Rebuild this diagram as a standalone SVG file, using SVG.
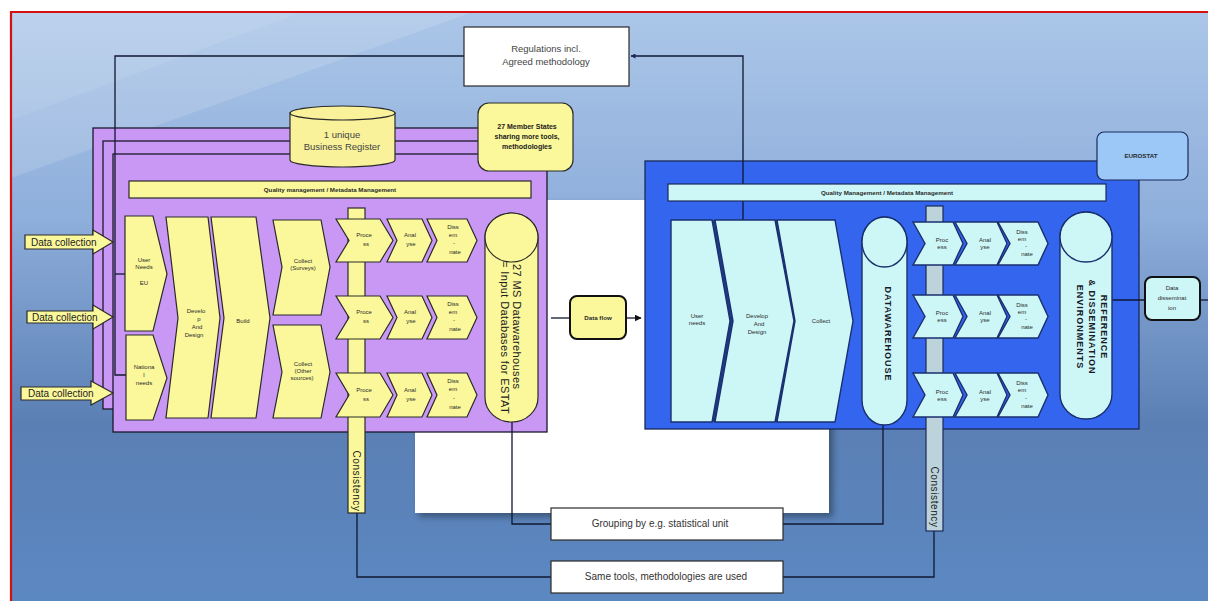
<svg xmlns="http://www.w3.org/2000/svg" width="1208" height="601" viewBox="0 0 1208 601">
<defs>
<linearGradient id="bg" x1="0" y1="0" x2="0" y2="1">
<stop offset="0" stop-color="#abc6e8"/>
<stop offset="0.35" stop-color="#8eaedb"/>
<stop offset="0.7" stop-color="#5a7fb4"/>
<stop offset="1" stop-color="#5c88c2"/>
</linearGradient>
<filter id="sh" x="-10%" y="-10%" width="120%" height="120%"><feGaussianBlur stdDeviation="3"/></filter>
<marker id="arr" viewBox="0 0 10 10" refX="9" refY="5" markerWidth="7" markerHeight="7" orient="auto" markerUnits="userSpaceOnUse"><path d="M0,0 L10,5 L0,10 Z" fill="#111"/></marker>
<marker id="arrs" viewBox="0 0 10 10" refX="9" refY="5" markerWidth="5" markerHeight="5" orient="auto" markerUnits="userSpaceOnUse"><path d="M0,0 L10,5 L0,10 Z" fill="#1a2a5a"/></marker>
</defs>
<style>
text{font-family:"Liberation Sans",Arial,sans-serif;}
.y{fill:#fbf89b;stroke:#2a2a2a;stroke-width:1.2;}
.pu{fill:#c998f5;stroke:#1a1a2a;stroke-width:1.3;}
.bl{fill:#3365ee;stroke:#1a2a5a;stroke-width:1.3;}
.c{fill:#cdf7f7;stroke:#1a2f6e;stroke-width:1.4;}
.cs{fill:#1f3a86;}
.wb{fill:#ffffff;stroke:#2a2a2a;stroke-width:1.2;}
.t6{font-size:6px;fill:#2a2a2a;text-anchor:middle;}
.t6b{font-size:6.2px;font-weight:bold;fill:#2a2a2a;text-anchor:middle;}
.t7b{font-size:7px;font-weight:bold;fill:#1a1a1a;text-anchor:middle;}
.t9{font-size:9.5px;fill:#444;text-anchor:middle;}
.t10{font-size:10px;fill:#333;text-anchor:middle;}
.dc{font-size:10px;fill:#222;}
.ln{fill:none;stroke:#101830;stroke-width:1.3;}
.rot{font-size:10px;fill:#222;text-anchor:middle;letter-spacing:0.6px;}
.rotb{font-size:9px;font-weight:bold;fill:#1a1a2a;text-anchor:middle;letter-spacing:1px;}
</style>
<rect x="0" y="0" width="1208" height="601" fill="#ffffff"/>
<rect x="11" y="13" width="1197" height="588" fill="url(#bg)"/>
<polygon points="11,13 470,13 11,178" fill="#ffffff" opacity="0.14"/>
<polygon points="11,13 300,13 11,120" fill="#ffffff" opacity="0.08"/>
<line x1="10" y1="12" x2="1208" y2="12" stroke="#d41010" stroke-width="2.2"/>
<line x1="11" y1="12" x2="11" y2="601" stroke="#d41010" stroke-width="2.2"/>
<g id="white-panel">
<rect x="419" y="204" width="414" height="313" fill="#000" opacity="0.35" filter="url(#sh)"/>
<rect x="415" y="200" width="414" height="313" fill="#ffffff"/>
</g>
<g id="member-states-frame">
<rect class="pu" x="93" y="128" width="434" height="268"/>
<rect class="pu" x="103" y="141" width="434" height="268"/>
<rect class="pu" x="113" y="154" width="434" height="278"/>
</g>
<g id="eurostat-frame">
<rect class="bl" x="645" y="161" width="494" height="268"/>
</g>
<g id="connectors">
<path class="ln" d="M464,56 H115 V375 H126"/>
<path class="ln" d="M115,274 H126"/>
<path class="ln" d="M743,220 V56 H631" marker-end="url(#arrs)"/>
<path class="ln" d="M357,513 V577 H551"/>
<path class="ln" d="M512,422 V524 H551"/>
<path class="ln" d="M883,425 V524 H783"/>
<path class="ln" d="M934,531 V577 H783"/>
<path class="ln" d="M551,318 H570" stroke-width="2"/>
<path class="ln" d="M626,318 H641" stroke-width="2" marker-end="url(#arr)"/>
<path class="ln" d="M1112,300 H1145" stroke-width="2"/>
<path class="ln" d="M1200,300 H1208" stroke-width="2"/>
</g>
<g id="regulations">
<rect class="wb" x="464" y="27" width="165" height="59"/>
<text class="t9" x="546" y="52">Regulations incl.</text>
<text class="t9" x="546" y="65">Agreed methodology</text>
</g>
<g id="business-register">
<path d="M290,113 V160 A52.5,7 0 0 0 395,160 V113 Z" fill="#f9f29a" stroke="#2a2a2a" stroke-width="1.2"/>
<ellipse cx="342.5" cy="113" rx="52.5" ry="7" fill="#f9f29a" stroke="#2a2a2a" stroke-width="1.2"/>
<text class="t9" x="342" y="138" fill="#333">1 unique</text>
<text class="t9" x="342" y="150" fill="#333">Business Register</text>
</g>
<g id="member-states-note">
<rect class="y" x="478" y="103" width="95" height="68" rx="11"/>
<text class="t7b" x="527" y="129">27 Member States</text>
<text class="t7b" x="527" y="139">sharing more tools,</text>
<text class="t7b" x="527" y="149">methodologies</text>
</g>
<g id="eurostat-label">
<rect x="1097" y="132" width="91" height="48" rx="7" fill="#9cc8f7" stroke="#1a2a5a" stroke-width="1.2"/>
<text class="t6b" x="1141" y="158">EUROSTAT</text>
</g>
<g id="quality-ms">
<rect class="y" x="129" y="181" width="402" height="17"/>
<text class="t6b" x="330" y="192">Quality management  / Metadata  Management</text>
</g>
<g id="quality-eurostat">
<rect x="668" y="184" width="438" height="17" fill="#cdf7f7" stroke="#1a2a5a" stroke-width="1.2"/>
<text class="t6b" x="887" y="195">Quality Management  / Metadata  Management</text>
</g>
<g id="data-collection-1">
<path class="y" d="M25,235 H93 V230 L113,242 L93,254 V249 H25 Z"/>
<text class="dc" x="31" y="246">Data collection</text>
</g>
<g id="data-collection-2">
<path class="y" d="M27,311 H93 V305 L113,317 L93,329 V323 H27 Z"/>
<text class="dc" x="32" y="321">Data collection</text>
</g>
<g id="data-collection-3">
<path class="y" d="M21,387 H91 V381 L113,393 L91,405 V400 H21 Z"/>
<text class="dc" x="28" y="397">Data collection</text>
</g>
<g id="ms-user-needs-eu">
<polygon class="y" points="125,216 153,216 167,274 153,331 125,331"/>
<text class="t6" x="144" y="262">User</text>
<text class="t6" x="144" y="269">Needs</text>
<text class="t6" x="144" y="285">EU</text>
</g>
<g id="ms-national-needs">
<polygon class="y" points="126,335 153,335 167,378 153,420 126,420"/>
<text class="t6" x="144" y="369">Nationa</text>
<text class="t6" x="144" y="377">l</text>
<text class="t6" x="144" y="385">needs</text>
</g>
<g id="ms-develop">
<polygon class="y" points="166,217 208,217 220,318 208,418 166,418 178,318"/>
<text class="t6" x="196" y="313">Develo</text>
<text class="t6" x="199" y="321">p</text>
<text class="t6" x="197" y="329">And</text>
<text class="t6" x="194" y="337">Design</text>
</g>
<g id="ms-build">
<polygon class="y" points="211,217 256,217 270,318 256,418 211,418 224,318"/>
<text class="t6" x="243" y="323">Build</text>
</g>
<g id="ms-collect-surveys">
<polygon class="y" points="273,220 321,220 330,267 321,315 273,315 282,267"/>
<text class="t6" x="303" y="263">Collect</text>
<text class="t6" x="303" y="270">(Surveys)</text>
</g>
<g id="ms-collect-other">
<polygon class="y" points="273,325 321,325 330,372 321,418 273,418 282,372"/>
<text class="t6" x="303" y="366">Collect</text>
<text class="t6" x="303" y="373">(Other</text>
<text class="t6" x="302" y="380">sources)</text>
</g>
<g id="ms-consistency">
<rect class="y" x="348" y="208" width="17" height="305"/>
<text class="rot" transform="translate(353,481) rotate(90)">Consistency</text>
</g>
<g id="ms-row-1" transform="translate(0,219)">
<polygon class="y" points="336,0 380,0 393,21.5 380,43 336,43 349,21.5"/>
<text class="t6" x="364" y="18">Proce</text><text class="t6" x="366" y="27">ss</text>
<polygon class="y" points="387,0 422,0 432,21.5 422,43 387,43 397,21.5"/>
<text class="t6" x="410" y="18">Anal</text><text class="t6" x="411" y="27">yse</text>
<polygon class="y" points="427,0 467,0 477,21.5 467,43 427,43 437,21.5"/>
<text class="t6" x="453" y="10">Diss</text><text class="t6" x="453" y="18">em</text><text class="t6" x="454" y="26">-</text><text class="t6" x="455" y="35">nate</text>
</g>
<g id="ms-row-2" transform="translate(0,296)">
<polygon class="y" points="336,0 380,0 393,21.5 380,43 336,43 349,21.5"/>
<text class="t6" x="364" y="18">Proce</text><text class="t6" x="366" y="27">ss</text>
<polygon class="y" points="387,0 422,0 432,21.5 422,43 387,43 397,21.5"/>
<text class="t6" x="410" y="18">Anal</text><text class="t6" x="411" y="27">yse</text>
<polygon class="y" points="427,0 467,0 477,21.5 467,43 427,43 437,21.5"/>
<text class="t6" x="453" y="10">Diss</text><text class="t6" x="453" y="18">em</text><text class="t6" x="454" y="26">-</text><text class="t6" x="455" y="35">nate</text>
</g>
<g id="ms-row-3" transform="translate(0,373)">
<polygon class="y" points="336,0 380,0 393,22 380,44 336,44 349,22"/>
<text class="t6" x="364" y="19">Proce</text><text class="t6" x="366" y="28">ss</text>
<polygon class="y" points="387,0 422,0 432,22 422,44 387,44 397,22"/>
<text class="t6" x="410" y="19">Anal</text><text class="t6" x="411" y="28">yse</text>
<polygon class="y" points="427,0 467,0 477,22 467,44 427,44 437,22"/>
<text class="t6" x="453" y="10">Diss</text><text class="t6" x="453" y="18">em</text><text class="t6" x="454" y="27">-</text><text class="t6" x="455" y="36">nate</text>
</g>
<g id="ms-datawarehouses">
<path class="y" d="M485,237.5 A26.5,24.5 0 0 1 538,237.5 V397.5 A26.5,24.5 0 0 1 485,397.5 Z"/>
<ellipse class="y" cx="511.5" cy="237.5" rx="26.5" ry="24.5"/>
<text font-size="11" fill="#222" transform="translate(513,264) rotate(90)" letter-spacing="0.4">27 MS Datawarehouses</text>
<text font-size="11" fill="#222" transform="translate(501,261) rotate(90)" letter-spacing="0.4">= Input Databases for ESTAT</text>
</g>
<g id="data-flow">
<rect x="570" y="296" width="56" height="43" rx="7" fill="#fbf89b" stroke="#111" stroke-width="2"/>
<text class="t6b" x="598" y="320">Data flow</text>
</g>
<g id="es-develop-shadow">
<polygon class="cs" points="711,220 771,220 790,321 771,422 711,422 729,321"/>
<polygon class="cs" points="773,220 831,220 849,321 831,422 773,422 791,321"/>
</g>
<g id="es-user-needs">
<polygon class="c" points="671,220 712,220 730,321 712,422 671,422"/>
<text class="t6" x="697" y="318">User</text>
<text class="t6" x="697" y="325">needs</text>
</g>
<g id="es-develop">
<polygon class="c" points="715,220 775,220 794,321 775,422 715,422 733,321"/>
<text class="t6" x="757" y="318">Develop</text>
<text class="t6" x="759" y="326">And</text>
<text class="t6" x="757" y="334">Design</text>
</g>
<g id="es-collect">
<polygon class="c" points="777,220 835,220 853,321 835,422 777,422 795,321"/>
<text class="t6" x="821" y="323">Collect</text>
</g>
<g id="es-datawarehouse">
<path class="c" d="M862,242 A22.5,25 0 0 1 907,242 V400 A22.5,25 0 0 1 862,400 Z"/>
<ellipse class="c" cx="884.5" cy="242" rx="22.5" ry="25"/>
<text class="rotb" transform="translate(885,334) rotate(90)">DATAWAREHOUSE</text>
</g>
<g id="es-consistency">
<rect x="926" y="206" width="17" height="325" fill="#bcd3dc" stroke="#1a2a5a" stroke-width="1.2"/>
<text class="rot" transform="translate(931,497) rotate(90)">Consistency</text>
</g>
<g id="es-row-1" transform="translate(0,222)">
<polygon class="c" points="913,0 953,0 963,21.5 953,43 913,43 925,21.5"/>
<text class="t6" x="942" y="20">Proc</text><text class="t6" x="942" y="27">ess</text>
<polygon class="c" points="955,0 997,0 1007,21.5 997,43 955,43 967,21.5"/>
<text class="t6" x="985" y="20">Anal</text><text class="t6" x="985" y="27">yse</text>
<polygon class="c" points="998,0 1038,0 1048,21.5 1038,43 998,43 1010,21.5"/>
<text class="t6" x="1022" y="12">Diss</text><text class="t6" x="1022" y="19">em</text><text class="t6" x="1026" y="26">-</text><text class="t6" x="1027" y="34">nate</text>
</g>
<g id="es-row-2" transform="translate(0,295)">
<polygon class="c" points="913,0 953,0 963,21.5 953,43 913,43 925,21.5"/>
<text class="t6" x="942" y="20">Proc</text><text class="t6" x="942" y="27">ess</text>
<polygon class="c" points="955,0 997,0 1007,21.5 997,43 955,43 967,21.5"/>
<text class="t6" x="985" y="20">Anal</text><text class="t6" x="985" y="27">yse</text>
<polygon class="c" points="998,0 1038,0 1048,21.5 1038,43 998,43 1010,21.5"/>
<text class="t6" x="1022" y="12">Diss</text><text class="t6" x="1022" y="19">em</text><text class="t6" x="1026" y="26">-</text><text class="t6" x="1027" y="34">nate</text>
</g>
<g id="es-row-3" transform="translate(0,373)">
<polygon class="c" points="913,0 953,0 963,22 953,44 913,44 925,22"/>
<text class="t6" x="942" y="21">Proc</text><text class="t6" x="942" y="28">ess</text>
<polygon class="c" points="955,0 997,0 1007,22 997,44 955,44 967,22"/>
<text class="t6" x="985" y="21">Anal</text><text class="t6" x="985" y="28">yse</text>
<polygon class="c" points="998,0 1038,0 1048,22 1038,44 998,44 1010,22"/>
<text class="t6" x="1022" y="12">Diss</text><text class="t6" x="1022" y="19">em</text><text class="t6" x="1026" y="27">-</text><text class="t6" x="1027" y="35">nate</text>
</g>
<g id="es-reference">
<path class="c" d="M1060,237 A26,25 0 0 1 1112,237 V394 A26,25 0 0 1 1060,394 Z"/>
<ellipse class="c" cx="1086" cy="237" rx="26" ry="25"/>
<text class="rotb" transform="translate(1101,327) rotate(90)">REFERENCE</text>
<text class="rotb" transform="translate(1089,327) rotate(90)">&amp; DISSEMINATION</text>
<text class="rotb" transform="translate(1077,327) rotate(90)">ENVIRONMENTS</text>
</g>
<g id="data-dissemination">
<rect x="1145" y="277" width="55" height="43" rx="7" fill="#cdf7f7" stroke="#111" stroke-width="2"/>
<text class="t6" x="1172" y="290">Data</text>
<text class="t6" x="1172" y="300">disseminat</text>
<text class="t6" x="1172" y="310">ion</text>
</g>
<g id="grouping">
<rect class="wb" x="551" y="508" width="232" height="32"/>
<text class="t10" x="660" y="527">Grouping  by e.g.  statistical unit</text>
</g>
<g id="same-tools">
<rect class="wb" x="551" y="561" width="232" height="32"/>
<text class="t10" x="666" y="580">Same tools, methodologies  are used</text>
</g>
</svg>
